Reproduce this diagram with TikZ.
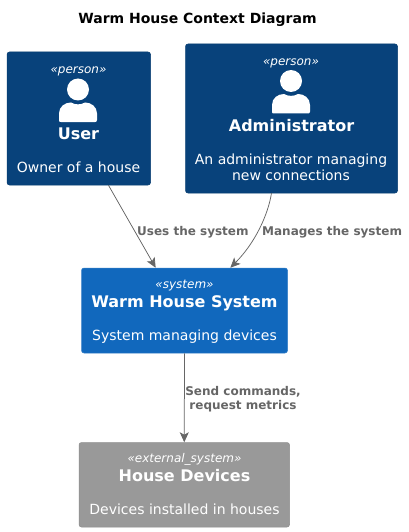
\documentclass[tikz,border=0pt]{standalone}
\usepackage{fontspec}
\setmainfont{DejaVu Sans}
\usetikzlibrary{arrows.meta}
\definecolor{persondark}{HTML}{08427B}
\definecolor{sysblue}{HTML}{1168BD}
\definecolor{extgrey}{HTML}{999999}
\definecolor{relgrey}{HTML}{666666}
\tikzset{
  x=1pt,y=-1pt,
  box/.style={rectangle,rounded corners=2.5pt,minimum width=#1,inner sep=0pt,line width=0.5pt},
  personbox/.style={box=#1,fill=persondark,draw=persondark!92!black},
  systembox/.style={box=#1,fill=sysblue,draw=sysblue!85!white},
  extbox/.style={box=#1,fill=extgrey,draw=extgrey!92!black},
  stereotext/.style={anchor=base,text=white,inner sep=0pt,font=\fontsize{12}{14}\selectfont\itshape},
  nametext/.style={anchor=base,text=white,inner sep=0pt,font=\fontsize{16}{19}\selectfont\bfseries},
  desctext/.style={anchor=base,text=white,inner sep=0pt,font=\fontsize{14}{16}\selectfont},
  rellabel/.style={anchor=base,text=relgrey,inner sep=0pt,font=\fontsize{12}{14}\selectfont\bfseries},
  rel/.style={draw=relgrey,line width=0.75pt,-{Stealth[length=10pt,width=9pt,inset=2.5pt]}},
  titletext/.style={anchor=base,inner sep=0pt,font=\fontsize{14}{16}\selectfont\bfseries},
}
\newcommand{\personicon}[2]{%
  \fill[white] (#1,#2) circle[radius=11];
  \fill[white] (#1-19,#2+32.5) -- (#1-19,#2+24) .. controls (#1-19,#2+17) and (#1-13,#2+13) .. (#1-7,#2+13)
     .. controls (#1-3,#2+15.5) and (#1+3,#2+15.5) .. (#1+7,#2+13)
     .. controls (#1+13,#2+13) and (#1+19,#2+17) .. (#1+19,#2+24) -- (#1+19,#2+30.5)
     .. controls (#1+19,#2+32) and (#1+18,#2+32.5) .. (#1+17,#2+32.5) -- (#1-17,#2+32.5)
     .. controls (#1-18,#2+32.5) and (#1-19,#2+32) .. (#1-19,#2+30.5) -- cycle;
}
\begin{document}
\begin{tikzpicture}
\useasboundingbox (0,0) rectangle (408,532);
\fill[white] (0,0) rectangle (408,532);
\node[titletext] (title) at (197.5,23.6) {Warm House Context Diagram};

\node[personbox=143.5pt,minimum height=133pt] (user) at (78.75,118.5) {};
\node[stereotext] (userS) at (78.5,73.8) {«person»};
\personicon{78}{89.5}
\node[nametext] (userN) at (78.5,139.5) {User};
\node[desctext] (userD) at (78.5,172) {Owner of a house};

\node[personbox=212pt,minimum height=149pt] (admin) at (291.5,118.5) {};
\node[stereotext] (adminS) at (291,65.8) {«person»};
\personicon{291}{81}
\node[nametext] (adminN) at (291.5,131) {Administrator};
\node[desctext] (adminD1) at (291,164) {An administrator managing};
\node[desctext] (adminD2) at (291,180) {new connections};

\node[systembox=206pt,minimum height=85pt] (system) at (184.5,310.5) {};
\node[stereotext] (sysS) at (184.5,288.8) {«system»};
\node[nametext] (sysN) at (184.5,307) {Warm House System};
\node[desctext] (sysD) at (184.5,340.7) {System managing devices};

\node[extbox=210.5pt,minimum height=84.5pt] (devices) at (184.25,484.75) {};
\node[stereotext] (devS) at (184.5,462.5) {«external\_system»};
\node[nametext] (devN) at (184.5,481) {House Devices};
\node[desctext] (devD) at (184.5,514) {Devices installed in houses};

\draw[rel] (user.-66.26) -- (system.124.8);
\draw[rel] (admin.255.7) .. controls (268,215) and (255,243) .. (system.43.7);
\draw[rel] (system.south) -- (devices.north);

\node[rellabel,anchor=base west] (l1) at (137,235) {Uses the system};
\node[rellabel,anchor=base west] (l2) at (262,235) {Manages the system};
\node[rellabel] (l3a) at (243,395) {Send commands,};
\node[rellabel] (l3b) at (243,409) {request metrics};
\end{tikzpicture}
\end{document}
